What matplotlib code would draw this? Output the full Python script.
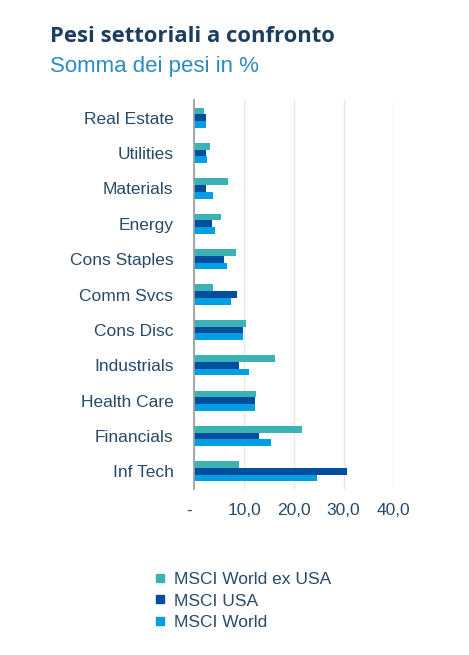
import numpy as np
from matplotlib import pyplot as plt
from matplotlib.lines import Line2D

sectors = ['Real Estate', 'Utilities', 'Materials', 'Energy', 'Cons Staples',
           'Comm Svcs', 'Cons Disc', 'Industrials', 'Health Care',
           'Financials', 'Inf Tech']
world_ex_usa = [2.0, 3.2, 6.8, 5.3, 8.3, 3.8, 10.3, 16.3, 12.5, 21.7, 8.9]
msci_usa = [2.3, 2.3, 2.3, 3.5, 5.9, 8.6, 9.7, 8.9, 12.1, 13.1, 30.7]
msci_world = [2.3, 2.5, 3.7, 4.1, 6.5, 7.3, 9.7, 10.9, 12.1, 15.5, 24.7]
series_names = ['MSCI World ex USA', 'MSCI USA', 'MSCI World']
x_ticks = [0, 10, 20, 30, 40]
x_ticklabels = ['-  ', '10,0', '20,0', '30,0', '40,0']

teal = '#3bb3b5'
navy = '#004f9f'
sky = '#009fe3'
txt = '#284a68'

plt.rcParams['font.family'] = ['Liberation Sans', 'DejaVu Sans']

fig = plt.figure(figsize=[4.69, 6.55], dpi=100)
ax = fig.add_axes([0.4143, 0.2534, 0.4243, 0.5939])

y = np.arange(len(sectors))
h = 0.19
ax.barh(y - h, world_ex_usa, h, color=teal)
ax.barh(y, msci_usa, h, color=navy)
ax.barh(y + h, msci_world, h, color=sky)

ax.set_xlim(0, 40)
ax.set_ylim(len(sectors) - 0.5, -0.5)
ax.set_yticks(y)
ax.set_yticklabels(sectors)
ax.set_xticks(x_ticks)
ax.set_xticklabels(x_ticklabels)
ax.tick_params(axis='y', length=0, pad=15, labelsize=12.5, labelcolor=txt)
ax.tick_params(axis='x', length=0, pad=10, labelsize=12.5, labelcolor=txt)

ax.grid(axis='x', color='#e6e6e6', linewidth=1)
ax.set_axisbelow(True)
for s in ['top', 'right', 'bottom']:
    ax.spines[s].set_visible(False)
ax.spines['left'].set_color('#a0a0a0')
ax.spines['left'].set_linewidth(1.3)

fig.text(0.1066, 0.9363, 'Pesi settoriali a confronto', fontsize=15.8,
         fontweight='bold', color='#1c3d5e', family=['Open Sans', 'DejaVu Sans'])
fig.text(0.1066, 0.8905, 'Somma dei pesi in %', fontsize=16, color='#2b8cc4')

handles = [Line2D([], [], marker='s', linestyle='none', markersize=6, color=c)
           for c in [teal, navy, sky]]
fig.legend(handles, series_names, loc='upper left', bbox_to_anchor=(0.315, 0.14),
           frameon=False, fontsize=12.5, labelcolor=txt, handlelength=0.4,
           handletextpad=0.6, labelspacing=0.36, borderpad=0)

fig.savefig('out.png', dpi=100)
